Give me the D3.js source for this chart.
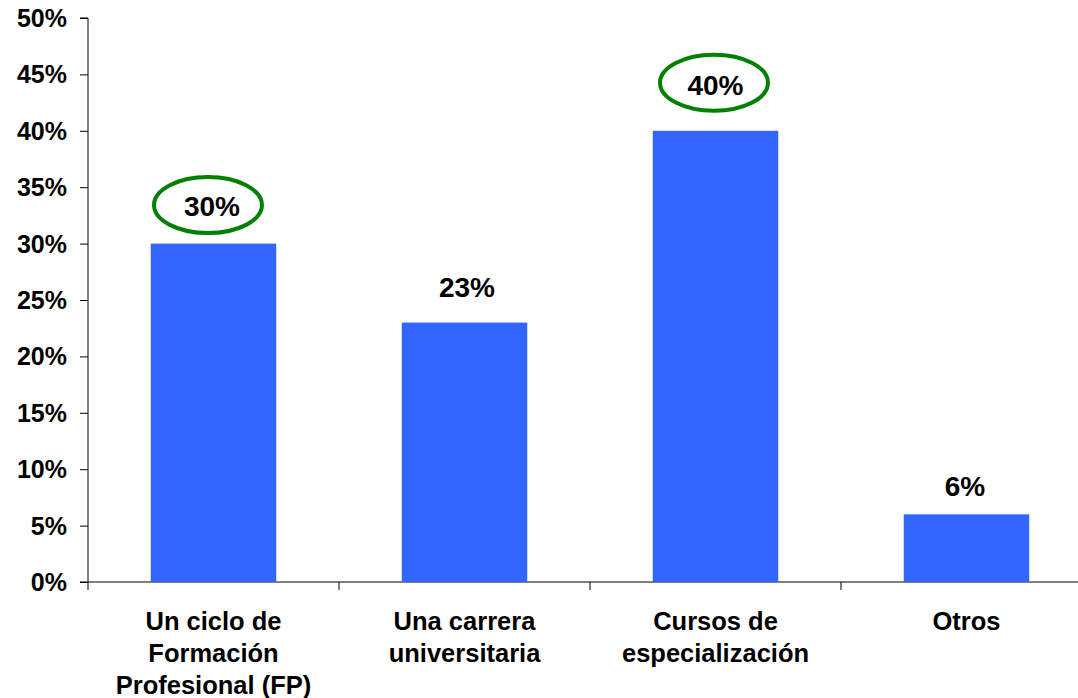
<!DOCTYPE html>
<html><head><meta charset="utf-8">
<script src="https://cdn.jsdelivr.net/npm/d3@7"></script>
<style>body{margin:0;background:#fff}svg{display:block}text{font-family:"Liberation Sans",Arial,sans-serif;font-weight:bold;fill:#000}</style>
</head><body>
<svg id="c" width="1078" height="698"></svg>
<script>
const categories = [["Un ciclo de","Formación","Profesional (FP)"],["Una carrera","universitaria"],["Cursos de","especialización"],["Otros"]];
const values = [30, 23, 40, 6];
const highlighted = [true, false, true, false];
const yTicks = [0,5,10,15,20,25,30,35,40,45,50];

// layout tweaks for value labels (pixel gaps above bars, horizontal nudges)
const labelGap = [28, 26, 36, 18];
const labelNudge = [-1.5, 2.5, 0, -1.5];
const ellipseGap = [38.5, 0, 48, 0];
const ellipseNudge = [-5.5, 0, -1.5, 0];

const svg = d3.select("#c");
const x0 = 88, x1 = 1092, yTop = 18, yBot = 582;
const x = d3.scaleBand().domain(d3.range(values.length)).range([x0, x1]).paddingInner(0.5).paddingOuter(0.25);
const y = d3.scaleLinear().domain([0, 50]).range([yBot, yTop]);

// y axis
const ya = svg.append("g").attr("transform", `translate(${x0},0)`)
  .call(d3.axisLeft(y).tickValues(yTicks).tickFormat(d => d + "%").tickSize(8).tickPadding(13));
ya.select(".domain").attr("stroke", "#000").attr("d", `M-8,${yTop}H0V${yBot}H-8`);
ya.selectAll(".tick line").attr("stroke", "#000");
ya.selectAll(".tick text").style("font-size", "25px").attr("fill", "#000").attr("dy", "0.34em");

// x axis line and ticks at band boundaries
svg.append("line").attr("x1", x0).attr("x2", 1078).attr("y1", yBot).attr("y2", yBot).attr("stroke", "#000");
const bounds = d3.range(values.length + 1).map(i => x0 + i * x.step());
svg.selectAll("line.xt").data(bounds).enter().append("line")
  .attr("x1", d => d).attr("x2", d => d).attr("y1", yBot).attr("y2", yBot + 8).attr("stroke", "#000");

// bars
svg.selectAll("rect.bar").data(values).enter().append("rect")
  .attr("x", (d, i) => x(i)).attr("width", x.bandwidth())
  .attr("y", d => y(d)).attr("height", d => yBot - y(d)).attr("fill", "#3366FF");

// ellipses
svg.selectAll("ellipse").data(values.map((v, i) => ({v, i})).filter(d => highlighted[d.i])).enter().append("ellipse")
  .attr("cx", d => x(d.i) + x.bandwidth() / 2 + ellipseNudge[d.i]).attr("cy", d => y(d.v) - ellipseGap[d.i])
  .attr("rx", 54).attr("ry", 28).attr("fill", "none").attr("stroke", "#008000").attr("stroke-width", 4);

// value labels
svg.selectAll("text.val").data(values).enter().append("text")
  .attr("x", (d, i) => x(i) + x.bandwidth() / 2 + labelNudge[i]).attr("y", (d, i) => y(d) - labelGap[i])
  .attr("text-anchor", "middle").style("font-size", "28px").text(d => d + "%");

// category labels
categories.forEach((lines, i) => {
  const t = svg.append("text").attr("text-anchor", "middle").style("font-size", "25.5px")
    .attr("x", x(i) + x.bandwidth() / 2).attr("y", 630);
  lines.forEach((l, j) => t.append("tspan").attr("x", x(i) + x.bandwidth() / 2).attr("dy", j ? 32 : 0).text(l));
});
</script>
</body></html>
